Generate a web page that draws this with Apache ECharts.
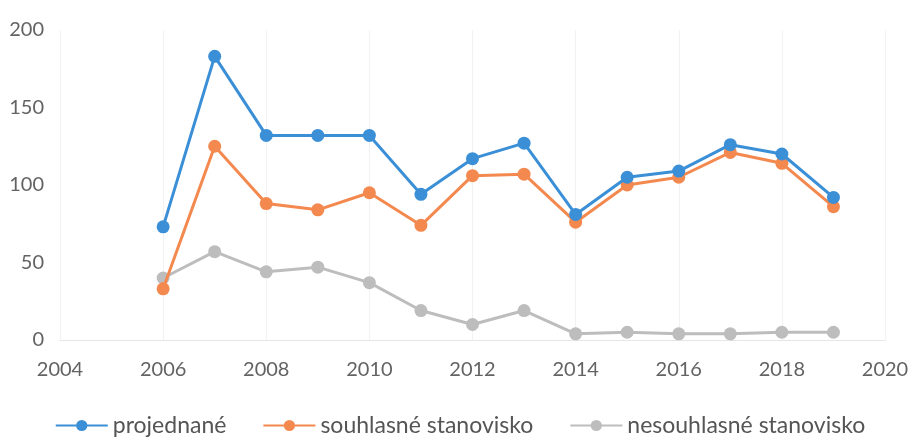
<!DOCTYPE html>
<html>
<head>
<meta charset="utf-8">
<script src="https://cdn.jsdelivr.net/npm/echarts@6/dist/echarts.min.js"></script>
<style>
html,body{margin:0;padding:0;background:#fff;}
#chart{width:920px;height:448px;}
</style>
</head>
<body>
<div id="chart"></div>
<script>
const years = [2006, 2007, 2008, 2009, 2010, 2011, 2012, 2013, 2014, 2015, 2016, 2017, 2018, 2019];
const projednane = [73, 183, 132, 132, 132, 94, 117, 127, 81, 105, 109, 126, 120, 92];
const souhlasne = [33, 125, 88, 84, 95, 74, 106, 107, 76, 100, 105, 121, 114, 86];
const nesouhlasne = [40, 57, 44, 47, 37, 19, 10, 19, 4, 5, 4, 4, 5, 5];
const seriesNames = ['projednané', 'souhlasné stanovisko', 'nesouhlasné stanovisko'];
const seriesColors = ['#3a8fd6', '#f4894f', '#bdbdbd'];

const pairs = arr => years.map((y, i) => [y, arr[i]]);
const dataSets = [projednane, souhlasne, nesouhlasne];

const chart = echarts.init(document.getElementById('chart'), null, {renderer: 'canvas'});
chart.setOption({
  animation: false,
  backgroundColor: '#fff',
  textStyle: {fontFamily: 'Lato'},
  grid: {left: 60, right: 35, top: 30, bottom: 108},
  xAxis: {
    type: 'value', min: 2004, max: 2020, interval: 2,
    axisLine: {show: true, lineStyle: {color: '#e6e6e6', width: 1}},
    axisTick: {show: false},
    splitLine: {show: true, lineStyle: {color: '#f2f2f2', width: 1}},
    axisLabel: {color: '#636363', fontSize: 20, margin: 20, fontFamily: 'Lato', formatter: v => String(v)}
  },
  yAxis: {
    type: 'value', min: 0, max: 200, interval: 50,
    axisLine: {show: false},
    axisTick: {show: false},
    splitLine: {show: false},
    axisLabel: {color: '#636363', fontSize: 20, margin: 16, fontFamily: 'Lato'}
  },
  legend: {
    left: 'center', bottom: 6,
    itemWidth: 52, itemHeight: 14, itemGap: 36,
    textStyle: {color: '#555555', fontSize: 23, fontFamily: 'Lato'},
    data: seriesNames
  },
  series: dataSets.map((d, i) => ({
    name: seriesNames[i],
    type: 'line',
    data: pairs(d),
    symbol: 'circle',
    symbolSize: 13,
    itemStyle: {color: seriesColors[i]},
    lineStyle: {color: seriesColors[i], width: 3},
    z: 3 - i
  }))
});
</script>
</body>
</html>
